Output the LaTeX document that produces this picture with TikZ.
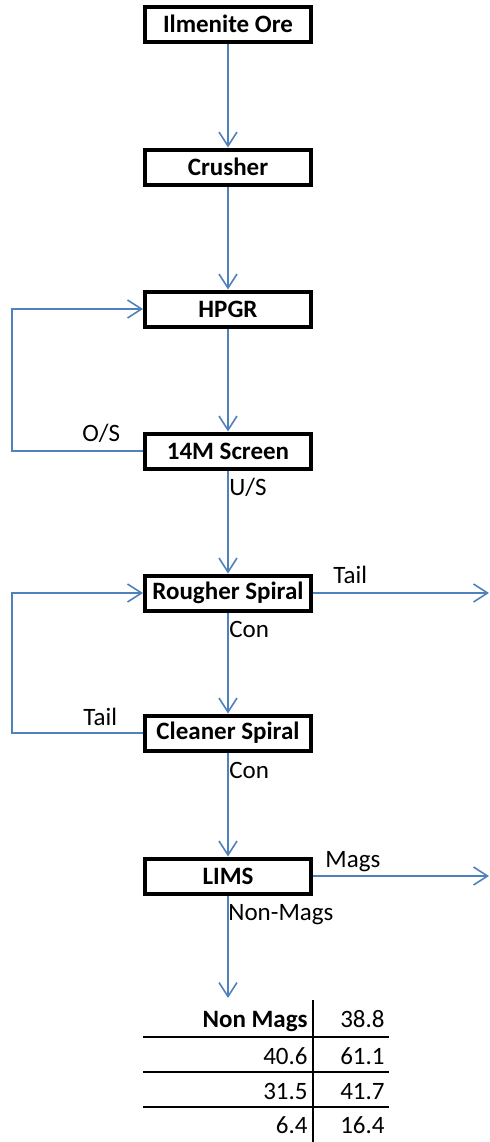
\documentclass[tikz,border=0pt]{standalone}
\usepackage{fontspec}
\setmainfont{Carlito}
\usepackage{tikz}
\usetikzlibrary{arrows.meta,positioning,calc}
\definecolor{flowblue}{RGB}{79,129,189}

\begin{document}
\begin{tikzpicture}[x=0.5pt, y=-0.5pt, font=\fontsize{12.5}{15}\selectfont,
  unit/.style={draw, line width=2pt, minimum width=83pt, minimum height=17.5pt, inner sep=0pt, font=\fontsize{12.5}{15}\selectfont\bfseries},
  flow/.style={draw=flowblue, line width=0.8pt, -{Straight Barb[length=7pt, width=9pt]}},
  lbl/.style={inner sep=0pt, anchor=base west},
  cell/.style={inner sep=0pt, anchor=base east},
  rule/.style={line width=1.2pt}]
  \useasboundingbox (0,0) rectangle (490,1142);
  % process units
  \node[unit] (ore) at (228,24) {Ilmenite Ore};
  \node[unit] (crusher) at (228,167) {Crusher};
  \node[unit] (hpgr) at (228,309) {HPGR};
  \node[unit] (screen) at (228,451) {14M Screen};
  \node[unit] (rougher) at (228,593) {Rougher Spiral};
  \node[unit] (cleaner) at (228,733) {Cleaner Spiral};
  \node[unit] (lims) at (228,876) {LIMS};
  \coordinate (loopx) at (12,0);
  \coordinate (tailend) at (489,593);
  \coordinate (magsend) at (489,876);
  \coordinate (nmend) at (228,998);
  % main line
  \draw[flow] (ore) -- (crusher);
  \draw[flow] (crusher) -- (hpgr);
  \draw[flow] (hpgr) -- (screen);
  \draw[flow] (screen) -- (rougher);
  \draw[flow] (rougher) -- (cleaner);
  \draw[flow] (cleaner) -- (lims);
  \draw[flow] (lims) -- (nmend);
  % recycles and products
  \draw[flow] (screen.west) -- (screen.west -| loopx) |- (hpgr.west);
  \draw[flow] (cleaner.west) -- (cleaner.west -| loopx) |- (rougher.west);
  \draw[flow] (rougher.east) -- (tailend);
  \draw[flow] (lims.east) -- (magsend);
  % stream labels
  \node[lbl] (os) at (82,441) {O/S};
  \node[lbl] (us) at (229,495) {U/S};
  \node[lbl] (rtail) at (333,583) {Tail};
  \node[lbl] (rcon) at (229,637) {Con};
  \node[lbl] (ctail) at (83,725) {Tail};
  \node[lbl] (ccon) at (229,778) {Con};
  \node[lbl] (mags) at (325,867) {Mags};
  \node[lbl] (nonmags) at (228,920) {Non-Mags};
  % results table
  \draw[rule] (313,1000) -- (313,1142);
  \draw[rule] (143,1037) -- (389,1037);
  \draw[rule] (143,1072) -- (389,1072);
  \draw[rule] (143,1107) -- (389,1107);
  \node[cell] (nmhead) at (308,1027) {\bfseries Non Mags};
  \node[cell] (nmval) at (385,1027) {38.8};
  \node[cell] (ra) at (308,1064) {40.6};
  \node[cell] (rb) at (385,1064) {61.1};
  \node[cell] (rc) at (308,1099) {31.5};
  \node[cell] (rd) at (385,1099) {41.7};
  \node[cell] (re) at (308,1133) {6.4};
  \node[cell] (rf) at (385,1133) {16.4};
\end{tikzpicture}
\end{document}
